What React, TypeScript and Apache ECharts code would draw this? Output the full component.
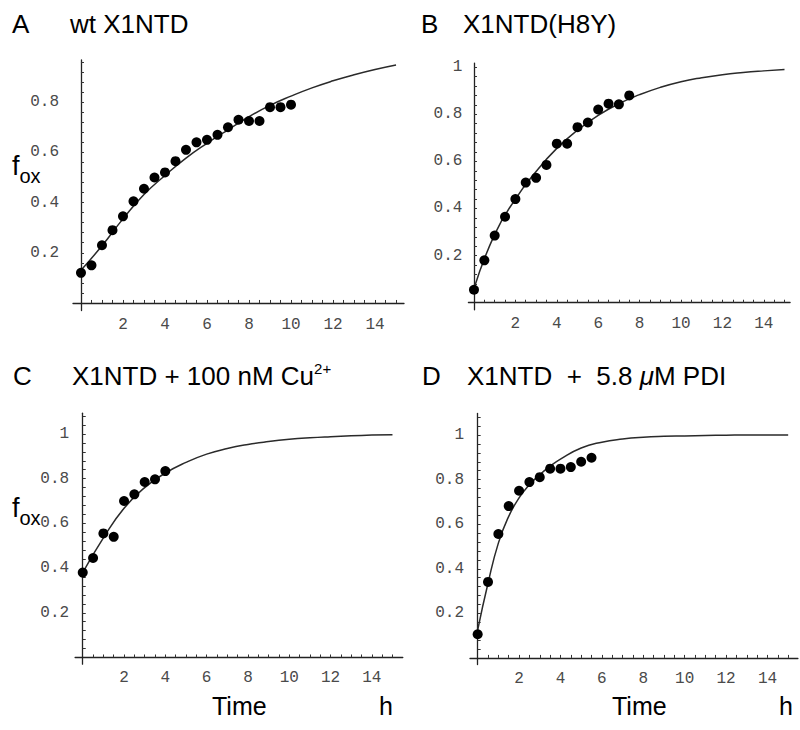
import React, { useEffect, useRef } from "react";
import * as echarts from "echarts";

// ---------- data ----------
const xTickLabels = [2, 4, 6, 8, 10, 12, 14];
const xMinorTicks = [0.5, 1, 1.5, 2, 2.5, 3, 3.5, 4, 4.5, 5, 5.5, 6, 6.5, 7, 7.5, 8, 8.5, 9, 9.5, 10, 10.5, 11, 11.5, 12, 12.5, 13, 13.5, 14, 14.5, 15];
const yTickLabelsA = [0.2, 0.4, 0.6, 0.8];
const yTickLabelsBCD = [0.2, 0.4, 0.6, 0.8, 1];
const yMinorTicks = [0.04, 0.08, 0.12, 0.16, 0.2, 0.24, 0.28, 0.32, 0.36, 0.4, 0.44, 0.48, 0.52, 0.56, 0.6, 0.64, 0.68, 0.72, 0.76, 0.8, 0.84, 0.88, 0.92, 0.96, 1.0, 1.04, 1.08];

// Panel A: wt X1NTD
const ptTimeA = [0, 0.5, 1, 1.5, 2, 2.5, 3, 3.5, 4, 4.5, 5, 5.5, 6, 6.5, 7, 7.5, 8, 8.5, 9, 9.5, 10];
const ptValA = [0.12, 0.15, 0.23, 0.29, 0.345, 0.405, 0.455, 0.5, 0.52, 0.565, 0.61, 0.64, 0.65, 0.67, 0.7, 0.73, 0.725, 0.725, 0.78, 0.78, 0.79];
const fitTimeA = [0, 1, 2, 3, 4, 5, 6, 7, 8, 9, 10, 11, 12, 13, 14, 15];
const fitValA = [0.13, 0.228, 0.335, 0.432, 0.508, 0.577, 0.636, 0.69, 0.742, 0.787, 0.824, 0.857, 0.885, 0.909, 0.93, 0.948];

// Panel B: X1NTD(H8Y)
const ptTimeB = [0, 0.5, 1, 1.5, 2, 2.5, 3, 3.5, 4, 4.5, 5, 5.5, 6, 6.5, 7, 7.5];
const ptValB = [0.055, 0.18, 0.285, 0.365, 0.44, 0.51, 0.53, 0.585, 0.675, 0.675, 0.745, 0.765, 0.82, 0.845, 0.842, 0.88];
const fitTimeB = [0, 1, 2, 3, 4, 5, 6, 7, 8, 9, 10, 11, 12, 13, 14, 15];
const fitValB = [0.06, 0.29, 0.44, 0.557, 0.655, 0.732, 0.795, 0.845, 0.883, 0.914, 0.938, 0.955, 0.968, 0.977, 0.984, 0.99];

// Panel C: X1NTD + 100 nM Cu2+
const ptTimeC = [0, 0.5, 1, 1.5, 2, 2.5, 3, 3.5, 4];
const ptValC = [0.38, 0.445, 0.555, 0.54, 0.7, 0.73, 0.785, 0.797, 0.834];
const fitTimeC = [0, 1, 2, 3, 4, 5, 6, 7, 8, 9, 10, 11, 12, 13, 14, 15];
const fitValC = [0.38, 0.535, 0.668, 0.76, 0.825, 0.873, 0.91, 0.935, 0.953, 0.966, 0.976, 0.983, 0.988, 0.992, 0.995, 0.997];

// Panel D: X1NTD + 5.8 uM PDI
const ptTimeD = [0, 0.5, 1, 1.5, 2, 2.5, 3, 3.5, 4, 4.5, 5, 5.5];
const ptValD = [0.106, 0.341, 0.556, 0.681, 0.75, 0.789, 0.811, 0.849, 0.849, 0.856, 0.88, 0.898];
const fitTimeD = [0, 0.5, 1, 1.5, 2, 2.5, 3, 3.5, 4, 5, 6, 7, 8, 9, 10, 11, 12, 13, 14, 15];
const fitValD = [0.125, 0.335, 0.515, 0.635, 0.718, 0.777, 0.822, 0.86, 0.892, 0.942, 0.968, 0.982, 0.99, 0.994, 0.996, 0.998, 0.999, 1.0, 1.0, 1.0];

const zip = (t: number[], v: number[]) => t.map((x, i) => [x, v[i]]);

const SANS = "'Liberation Sans', Arial, Helvetica, sans-serif";
const MONO = "'Liberation Mono', 'Courier New', monospace";

export default function App() {
  const ref = useRef<HTMLDivElement>(null);

  useEffect(() => {
    if (!ref.current) return;
    const chart = echarts.init(ref.current, null, { renderer: "svg" });

    const panels = [
      { grid: { left: 73, top: 60, width: 331, height: 250.5 }, xMin: -0.38, xMax: 15.38, yMin: -0.03, yMax: 0.968, yLabels: yTickLabelsA, yMargin: 14, pts: zip(ptTimeA, ptValA), fit: zip(fitTimeA, fitValA) },
      { grid: { left: 468.4, top: 63.1, width: 321.7, height: 246.7 }, xMin: -0.27, xMax: 15.27, yMin: -0.03, yMax: 1.017, yLabels: yTickLabelsBCD, yMargin: 6, pts: zip(ptTimeB, ptValB), fit: zip(fitTimeB, fitValB) },
      { grid: { left: 75.1, top: 413.2, width: 327.7, height: 251 }, xMin: -0.37, xMax: 15.5, yMin: -0.03, yMax: 1.093, yLabels: yTickLabelsBCD, yMargin: 6, pts: zip(ptTimeC, ptValC), fit: zip(fitTimeC, fitValC) },
      { grid: { left: 470, top: 413.4, width: 327.9, height: 251.2 }, xMin: -0.37, xMax: 15.47, yMin: -0.03, yMax: 1.097, yLabels: yTickLabelsBCD, yMargin: 6, pts: zip(ptTimeD, ptValD), fit: zip(fitTimeD, fitValD) },
    ];

    const axisLine = { show: true, onZero: true, lineStyle: { color: "#222", width: 1.3 } };
    const labelStyle = { fontFamily: MONO, fontSize: 16, color: "#4a4a4a" };

    const fox = (y: number) => ({
      type: "text",
      x: 12,
      y,
      style: {
        text: "{f|f}{s|ox}",
        fill: "#000",
        verticalAlign: "top",
        align: "left",
        rich: {
          f: { fontFamily: SANS, fontSize: 27, lineHeight: 40, verticalAlign: "middle", fill: "#000" },
          s: { fontFamily: SANS, fontSize: 20, lineHeight: 20, verticalAlign: "bottom", fill: "#000" },
        },
      },
    });

    const plain = (text: string, x: number, y: number, size: number) => ({
      type: "text",
      x,
      y,
      style: { text, font: `${size}px ${SANS}`, fill: "#000", verticalAlign: "middle", align: "left" },
    });

    const option: any = {
      animation: false,
      backgroundColor: "#ffffff",
      grid: panels.map((p) => ({ ...p.grid, containLabel: false, outerBoundsMode: "none" })),
      xAxis: panels.map((p, i) => ({
        type: "value",
        gridIndex: i,
        min: p.xMin,
        max: p.xMax,
        axisLine,
        splitLine: { show: false },
        axisTick: { show: true, inside: true, length: 3, customValues: xMinorTicks.filter((v) => v <= p.xMax), lineStyle: { color: "#333", width: 1 } },
        axisLabel: { show: true, margin: 6, customValues: xTickLabels, formatter: (v: number) => String(v), ...labelStyle },
      })),
      yAxis: panels.map((p, i) => ({
        type: "value",
        gridIndex: i,
        min: p.yMin,
        max: p.yMax,
        axisLine,
        splitLine: { show: false },
        axisTick: { show: true, inside: true, length: 3, customValues: yMinorTicks.filter((v) => v <= p.yMax), lineStyle: { color: "#333", width: 1 } },
        axisLabel: { show: true, margin: p.yMargin, customValues: p.yLabels, formatter: (v: number) => (v === 1 ? "1" : v.toFixed(1)), ...labelStyle },
      })),
      series: panels.flatMap((p, i) => [
        {
          type: "line",
          xAxisIndex: i,
          yAxisIndex: i,
          data: p.fit,
          smooth: 0.5,
          showSymbol: false,
          lineStyle: { color: "#2a2a2a", width: 1.5 },
          z: 2,
        },
        {
          type: "scatter",
          xAxisIndex: i,
          yAxisIndex: i,
          data: p.pts,
          symbol: "circle",
          symbolSize: 10,
          itemStyle: { color: "#000", opacity: 1 },
          z: 3,
        },
      ]),
      graphic: [
        plain("A", 12, 24, 26),
        plain("wt X1NTD", 70, 24, 26),
        plain("B", 421, 24, 26),
        plain("X1NTD(H8Y)", 463, 24, 26),
        plain("C", 13, 376, 26),
        {
          type: "text",
          x: 72,
          y: 376,
          style: {
            text: "{m|X1NTD + 100 nM Cu}{sup|2+}",
            fill: "#000",
            verticalAlign: "middle",
            align: "left",
            rich: {
              m: { fontFamily: SANS, fontSize: 26, lineHeight: 30, fill: "#000" },
              sup: { fontFamily: SANS, fontSize: 15, lineHeight: 20, verticalAlign: "top", fill: "#000" },
            },
          },
        },
        plain("D", 422, 376, 26),
        {
          type: "text",
          x: 467,
          y: 376,
          style: {
            text: "{m|X1NTD  +  5.8 }{mu|μ}{m|M PDI}",
            fill: "#000",
            verticalAlign: "middle",
            align: "left",
            rich: {
              m: { fontFamily: SANS, fontSize: 26, lineHeight: 30, fill: "#000" },
              mu: { fontFamily: SANS, fontSize: 26, lineHeight: 30, fontStyle: "italic", fill: "#000" },
            },
          },
        },
        fox(146),
        fox(488),
        plain("Time", 212, 706, 25),
        plain("h", 379, 706, 25),
        plain("Time", 612, 706, 25),
        plain("h", 779, 706, 25),
      ],
    };

    chart.setOption(option);
    return () => chart.dispose();
  }, []);

  return <div ref={ref} style={{ position: "absolute", left: 0, top: 0, width: 800, height: 730 }} />;
}
